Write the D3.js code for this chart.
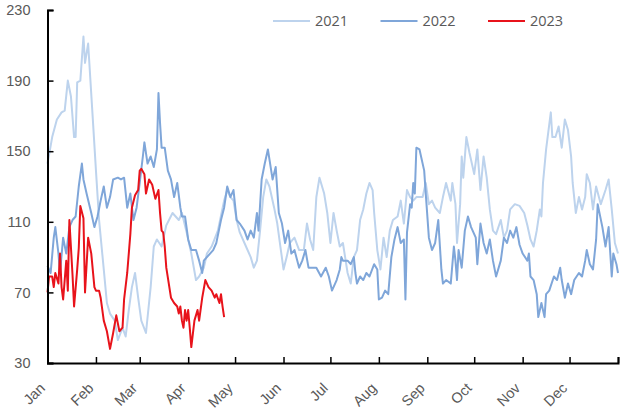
<!DOCTYPE html>
<html>
<head>
<meta charset="utf-8">
<script src="https://cdn.jsdelivr.net/npm/d3@7"></script>
<style>
    body { margin: 0; background: #fff; }
    #chart { width: 622px; height: 412px; }
</style>
</head>
<body>
<div id="chart"></div>
<script>
// day of year (0 = Jan 1) and value
const series2021 = [[0,143],[3,158],[6,168],[9,172],[11,173],[13,190],[15,181],[17,158],[18,158],[19,189],[21,190],[23,215],[24,200],[26,211],[29,168],[31,139],[33,111],[36,83],[38,64],[40,58],[43,54],[45,43],[48,50],[50,45],[52,60],[54,73],[56,81],[58,67],[60,54],[63,47],[66,73],[68,96],[70,100],[73,96],[76,108],[80,115],[84,111],[86,115],[89,104],[92,92],[95,77],[97,79],[100,84],[102,92],[105,96],[109,105],[113,122],[115,128],[117,124],[119,122],[121,111],[123,104],[127,96],[130,90],[132,84],[134,88],[136,105],[138,124],[140,134],[142,130],[145,118],[147,109],[149,96],[151,83],[153,90],[155,98],[158,101],[161,94],[164,94],[166,109],[168,100],[170,94],[172,124],[174,135],[177,126],[179,115],[181,98],[183,115],[185,105],[187,96],[189,98],[192,81],[194,75],[196,90],[198,94],[200,111],[202,117],[204,126],[206,132],[208,128],[209,115],[211,94],[213,83],[215,101],[217,90],[219,105],[221,111],[224,113],[226,122],[228,109],[230,128],[232,124],[234,122],[236,124],[240,124],[242,132],[244,120],[246,122],[248,118],[251,115],[253,124],[255,132],[258,122],[259,132],[261,120],[262,98],[264,120],[265,147],[266,135],[268,158],[270,149],[273,137],[275,151],[277,128],[279,147],[281,135],[283,117],[285,105],[287,103],[290,111],[292,101],[294,105],[296,117],[299,120],[302,119],[305,115],[307,108],[309,100],[311,96],[313,105],[315,117],[316,113],[317,132],[319,151],[322,172],[323,158],[325,158],[327,164],[329,152],[331,168],[333,162],[335,147],[336,132],[338,115],[340,124],[342,117],[344,124],[345,137],[347,132],[349,117],[351,130],[354,120],[357,128],[359,134],[361,117],[363,98],[365,92]];

const series2022 = [[0,85],[2,81],[4,101],[5,107],[7,92],[8,81],[10,101],[12,92],[14,107],[16,111],[18,113],[20,130],[22,143],[23,134],[25,126],[28,115],[30,107],[32,113],[34,122],[36,130],[38,118],[40,124],[42,134],[45,135],[47,134],[49,135],[51,118],[53,126],[55,111],[57,118],[59,132],[61,147],[62,155],[64,143],[66,147],[68,141],[70,151],[71,183],[72,166],[73,152],[75,152],[77,139],[79,134],[81,124],[83,132],[85,118],[86,113],[88,113],[90,100],[92,94],[95,94],[97,88],[99,81],[100,88],[102,90],[104,92],[106,94],[108,98],[111,111],[113,118],[115,130],[117,124],[119,128],[121,111],[123,109],[126,105],[128,100],[130,105],[132,101],[134,115],[135,105],[137,134],[139,143],[141,151],[144,134],[146,141],[148,115],[150,109],[152,98],[154,105],[156,92],[158,94],[161,84],[163,88],[165,94],[167,84],[169,84],[172,84],[175,79],[178,84],[180,79],[182,71],[184,75],[185,77],[187,83],[188,90],[189,88],[192,88],[194,86],[196,90],[197,81],[198,75],[200,79],[202,77],[204,81],[206,79],[209,86],[211,83],[212,66],[214,67],[216,71],[218,69],[220,90],[222,100],[224,107],[226,98],[228,100],[229,66],[230,104],[232,120],[233,118],[234,132],[235,126],[236,152],[238,151],[241,139],[242,126],[244,101],[246,94],[248,98],[250,111],[252,83],[253,75],[255,77],[258,75],[260,96],[261,88],[262,77],[263,94],[265,84],[267,105],[269,113],[271,107],[274,101],[275,86],[277,109],[279,98],[281,92],[283,100],[285,88],[287,79],[290,88],[292,101],[294,98],[296,105],[298,101],[300,107],[302,97],[304,92],[307,88],[308,92],[309,79],[311,77],[313,69],[314,56],[316,64],[318,56],[319,69],[321,71],[324,79],[326,77],[328,84],[329,77],[331,67],[333,75],[335,69],[337,77],[340,81],[342,79],[344,88],[345,94],[347,86],[349,83],[351,100],[352,120],[355,107],[357,96],[359,107],[361,79],[362,92],[364,86],[365,81]];

const series2023 = [[0,70],[1,79],[3,79],[4,73],[5,81],[7,75],[8,92],[9,73],[10,66],[12,88],[13,71],[14,111],[16,80],[17,62],[19,83],[20,95],[21,119],[23,112],[24,70],[26,101],[28,92],[30,73],[31,71],[33,71],[34,67],[36,54],[38,48],[39,43],[40,38],[42,47],[44,57],[46,48],[48,50],[49,66],[51,81],[52,92],[53,103],[54,118],[56,125],[58,128],[59,139],[60,140],[62,137],[63,126],[65,134],[67,131],[69,123],[71,128],[72,115],[73,105],[74,104],[75,96],[76,84],[79,67],[81,64],[83,62],[84,58],[85,62],[86,54],[87,50],[88,60],[89,54],[90,60],[91,50],[92,39],[94,54],[96,60],[97,54],[99,67],[101,77],[103,73],[105,71],[107,67],[108,69],[110,64],[111,69],[112,62],[113,56]];

const seriesNames = ["2021", "2022", "2023"];
const monthNames = ["Jan", "Feb", "Mar", "Apr", "May", "Jun", "Jul", "Aug", "Sep", "Oct", "Nov", "Dec"];
const monthStarts = [0, 31, 59, 90, 120, 151, 181, 212, 243, 273, 304, 334, 365];
const yTicks = [30, 70, 110, 150, 190, 230];

class LineChart {
    constructor(parentElement) {
        this.parentElement = parentElement;
        this.initVis();
    }

    initVis() {
        let vis = this;

        vis.margin = { top: 10, right: 4, bottom: 49, left: 47.5 };
        vis.width = 622 - vis.margin.left - vis.margin.right;
        vis.height = 412 - vis.margin.top - vis.margin.bottom;

        vis.svg = d3.select("#" + vis.parentElement)
            .append("svg")
            .attr("width", 622)
            .attr("height", 412)
            .style("font-family", "'Open Sans', sans-serif")
            .append("g")
            .attr("transform", `translate(${vis.margin.left}, ${vis.margin.top})`);

        vis.x = d3.scaleLinear().domain([0, 365]).range([0, 570.5]);
        vis.y = d3.scaleLinear().domain([30, 230]).range([vis.height, 0]);

        vis.color = d3.scaleOrdinal()
            .domain(seriesNames)
            .range(["#bdd3ed", "#7fa6d9", "#e8131b"]);

        vis.line = d3.line()
            .x(d => vis.x(d[0]))
            .y(d => vis.y(d[1]));

        vis.wrangleData();
    }

    wrangleData() {
        let vis = this;
        vis.displayData = [
            { name: "2021", values: series2021 },
            { name: "2022", values: series2022 },
            { name: "2023", values: series2023 }
        ];
        vis.updateVis();
    }

    updateVis() {
        let vis = this;

        vis.svg.selectAll(".series")
            .data(vis.displayData)
            .enter()
            .append("path")
            .attr("class", "series")
            .attr("d", d => vis.line(d.values))
            .attr("fill", "none")
            .attr("stroke", d => vis.color(d.name))
            .attr("stroke-width", 2)
            .attr("stroke-linejoin", "round");

        // y axis, ticks pointing inwards
        let yAxis = vis.svg.append("g")
            .attr("class", "y-axis")
            .call(d3.axisLeft(vis.y).tickValues(yTicks).tickSize(-6).tickPadding(17));
        yAxis.select(".domain").attr("stroke", "#000").attr("stroke-width", 2);
        yAxis.selectAll(".tick line").attr("stroke", "#000").attr("stroke-width", 1.5);
        yAxis.selectAll("text")
            .style("font-size", "14.5px")
            .attr("fill", "#595959");

        // x axis, month ticks pointing up
        let xAxis = vis.svg.append("g")
            .attr("class", "x-axis")
            .attr("transform", `translate(0, ${vis.height})`)
            .call(d3.axisBottom(vis.x).tickValues(monthStarts).tickSize(-6)
                .tickFormat((d, i) => monthNames[i] || ""));
        xAxis.select(".domain").attr("stroke", "#000").attr("stroke-width", 2);
        xAxis.selectAll(".tick line").attr("stroke", "#000").attr("stroke-width", 1.5);
        xAxis.selectAll("text")
            .attr("y", 0)
            .attr("dy", 0)
            .attr("transform", "translate(-2, 26) rotate(-45)")
            .attr("text-anchor", "end")
            .style("font-size", "14.5px")
            .attr("fill", "#595959");

        // legend
        const legend = vis.svg.append("g")
            .attr("class", "legend")
            .attr("transform", `translate(${273 - vis.margin.left}, ${21 - vis.margin.top})`);

        const items = legend.selectAll(".legend-item")
            .data(seriesNames)
            .enter()
            .append("g")
            .attr("class", "legend-item")
            .attr("transform", (d, i) => `translate(${i * 107.5}, 0)`);

        items.append("line")
            .attr("x1", 0)
            .attr("x2", 37)
            .attr("stroke", d => vis.color(d))
            .attr("stroke-width", 2);

        items.append("text")
            .attr("x", 42)
            .attr("y", 5)
            .attr("fill", "#595959")
            .style("font-size", "14.5px")
            .text(d => d);
    }
}

new LineChart("chart");
</script>
</body>
</html>
